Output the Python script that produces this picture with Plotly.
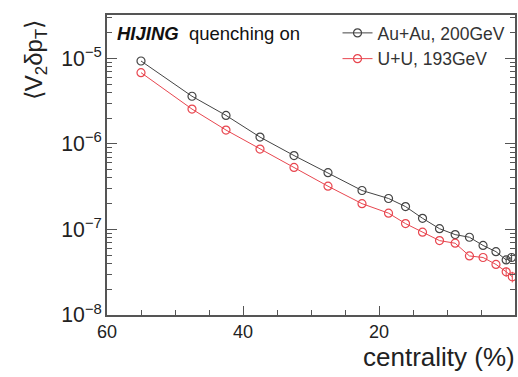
import plotly.graph_objects as go

cent_au = [55, 47.5, 42.5, 37.5, 32.5, 27.5, 22.5, 18.6, 16.1, 13.6, 11.1, 8.8, 6.7, 4.7, 2.8, 1.3, 0.5]
v2dpt_au = [9.3e-6, 3.6e-6, 2.15e-6, 1.2e-6, 7.3e-7, 4.6e-7, 2.85e-7, 2.3e-7, 1.85e-7, 1.35e-7, 1.02e-7, 8.7e-8, 8.1e-8, 6.5e-8, 5.5e-8, 4.4e-8, 4.7e-8]
err_au = [0, 0, 0, 0, 0, 0, 0, 0, 0, 0, 0, 0, 0, 0, 0, 4e-9, 5e-9]

cent_uu = [55, 47.5, 42.5, 37.5, 32.5, 27.5, 22.5, 18.6, 16.1, 13.6, 11.1, 8.8, 6.7, 4.7, 2.8, 1.3, 0.4]
v2dpt_uu = [6.8e-6, 2.55e-6, 1.45e-6, 8.7e-7, 5.3e-7, 3.2e-7, 2.0e-7, 1.55e-7, 1.17e-7, 9.3e-8, 7.4e-8, 6.9e-8, 4.9e-8, 4.7e-8, 3.9e-8, 3.2e-8, 2.8e-8]
err_uu = [0, 0, 0, 0, 0, 0, 0, 0, 0, 0, 0, 0, 0, 0, 0, 4e-9, 4e-9]

FONT = "Liberation Sans, Arial, sans-serif"
BLACK = "#444444"
RED = "#e8464f"

fig = go.Figure()
fig.add_trace(go.Scatter(
    x=cent_au, y=v2dpt_au, mode="lines+markers", name="Au+Au, 200GeV",
    line=dict(color=BLACK, width=1),
    marker=dict(symbol="circle-open", size=8, color=BLACK, line=dict(width=1.2)),
    error_y=dict(type="data", array=err_au, visible=True, color=BLACK, thickness=1, width=0),
))
fig.add_trace(go.Scatter(
    x=cent_uu, y=v2dpt_uu, mode="lines+markers", name="U+U, 193GeV",
    line=dict(color=RED, width=1),
    marker=dict(symbol="circle-open", size=8, color=RED, line=dict(width=1.2)),
    error_y=dict(type="data", array=err_uu, visible=True, color=RED, thickness=1, width=0),
))

fig.update_layout(
    width=518, height=377,
    margin=dict(l=107, r=1, t=15, b=62),
    paper_bgcolor="white", plot_bgcolor="white",
    font=dict(family=FONT, color="#222"),
    showlegend=True,
    legend=dict(x=0.565, y=1.0, xanchor="left", yanchor="top",
                font=dict(size=17.5, color="#333"), bgcolor="rgba(0,0,0,0)",
                itemwidth=30, tracegroupgap=0),
)
fig.update_xaxes(
    range=[60, 0], tickvals=[60, 40, 20, 0], ticktext=["60", "40", "20", "0"],
    ticks="inside", ticklen=9, tickwidth=1, tickcolor="#555",
    minor=dict(dtick=5, ticks="inside", ticklen=5, tickcolor="#555", showgrid=False),
    showline=True, linecolor="#555", linewidth=1.5, mirror=True,
    showgrid=False, zeroline=False,
    tickfont=dict(size=18, color="#222"),
)
fig.update_yaxes(
    type="log", range=[-8, -4.494], dtick=1, exponentformat="power",
    ticks="inside", ticklen=10, tickwidth=1, tickcolor="#555",
    minor=dict(ticks="inside", ticklen=5, tickcolor="#555", showgrid=False),
    showline=True, linecolor="#555", linewidth=1.5, mirror="ticks",
    showgrid=False, zeroline=False,
    tickfont=dict(size=17, color="#222"),
)
fig.add_annotation(
    text="centrality (%)", xref="paper", yref="paper", x=1.004, y=0,
    xanchor="right", yanchor="top", yshift=-25, showarrow=False,
    font=dict(size=26, color="#222", family=FONT),
)
fig.add_annotation(
    text="⟨V<sub>2</sub>δp<sub>T</sub>⟩", xref="paper", yref="paper",
    x=-0.176, y=0.85, xanchor="center", yanchor="middle", textangle=-90,
    showarrow=False, font=dict(size=24, color="#222", family=FONT),
)
fig.add_annotation(
    text="<b><i>HIJING</i></b>  quenching on", xref="paper", yref="paper",
    x=0.02, y=0.94, xanchor="left", yanchor="middle", showarrow=False,
    font=dict(size=18.5, color="#111", family=FONT),
)

fig.write_html("out.html")
